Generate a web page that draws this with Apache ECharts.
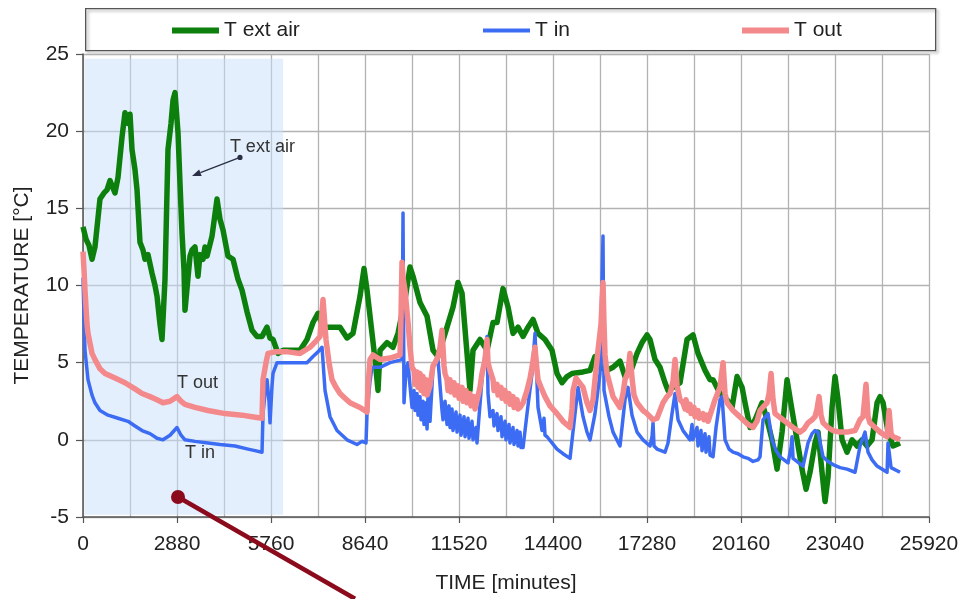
<!DOCTYPE html>
<html>
<head>
<meta charset="utf-8">
<script src="https://cdn.jsdelivr.net/npm/echarts@6/dist/echarts.min.js"></script>
<style>
  html, body { margin: 0; padding: 0; background: #fff; }
  #chart { width: 964px; height: 599px; }
</style>
</head>
<body>
<div id="chart"></div>
<script>
// Temperature records [time in minutes, °C]
const tExtAir = [
  [0,13.8],[92,13.0],[184,12.6],[276,11.7],[367,12.5],[520,15.6],[644,16.0],[736,16.2],[827,16.8],
  [919,16.3],[980,16.0],[1072,17.0],[1195,19.6],[1287,21.2],[1379,20.5],[1440,21.1],[1502,18.8],
  [1593,17.5],[1655,16.2],[1746,12.8],[1838,12.3],[1899,11.7],[1991,12.0],[2114,10.8],[2206,10.0],
  [2268,9.3],[2359,7.5],[2421,6.5],[2512,10.4],[2604,18.8],[2696,20.5],[2758,22.0],[2819,22.5],
  [2911,19.9],[2972,16.6],[3034,13.4],[3095,11.0],[3125,8.4],[3217,10.5],[3278,11.9],[3340,12.3],
  [3431,12.5],[3523,10.6],[3584,12.0],[3677,11.7],[3738,12.5],[3800,11.9],[3953,13.2],[4106,15.6],
  [4197,14.3],[4290,13.6],[4443,11.9],[4596,11.7],[4749,10.4],[4872,9.7],[5025,8.3],[5178,7.1],
  [5332,6.7],[5485,6.7],[5638,7.3],[5729,6.6],[5822,6.5],[5975,5.6],[6128,5.8],[6281,5.8],
  [6649,5.8],[6863,6.5],[7047,7.6],[7200,8.2],[7354,7.3],[7660,7.3],[7874,7.3],[8089,6.6],
  [8273,6.9],[8487,9.3],[8610,11.1],[8702,9.7],[8855,6.9],[8947,5.2],[9039,3.2],[9100,5.8],
  [9315,6.3],[9498,6.0],[9651,6.9],[9866,9.1],[10019,11.2],[10111,10.6],[10325,8.9],[10541,8.0],
  [10724,5.8],[10877,5.4],[11153,7.3],[11337,8.6],[11490,10.2],[11613,9.5],[11766,5.6],[11857,3.2],
  [11950,5.8],[12164,6.5],[12379,5.8],[12562,7.6],[12685,7.6],[12869,9.8],[13022,8.6],[13175,6.9],
  [13328,7.3],[13482,6.7],[13635,7.3],[13788,7.8],[13941,6.9],[14155,6.5],[14370,5.8],[14523,4.3],
  [14676,3.7],[14830,4.1],[14983,4.3],[15320,4.4],[15534,4.5],[15687,5.4],[15840,4.7],[16055,4.5],
  [16239,4.7],[16453,5.1],[16606,4.1],[16759,4.3],[16975,5.6],[17128,6.3],[17281,6.8],[17372,6.5],
  [17526,5.2],[17679,4.7],[17832,3.7],[17924,3.2],[18078,3.4],[18292,3.7],[18507,6.5],[18690,6.8],
  [18843,5.6],[19058,4.5],[19211,3.9],[19303,3.9],[19517,3.0],[19733,2.6],[19886,2.1],[20040,4.1],
  [20193,3.4],[20283,2.4],[20436,0.8],[20590,1.3],[20805,2.4],[20958,1.3],[21111,0.0],[21265,-1.9],
  [21418,0.5],[21571,3.9],[21724,1.9],[21877,0.0],[22030,-1.9],[22153,-3.2],[22275,-2.1],[22428,-0.2],
  [22520,0.5],[22643,-2.1],[22735,-4.0],[22827,-2.4],[22950,2.1],[23041,4.1],[23133,2.6],[23256,0.0],
  [23409,-0.8],[23562,0.0],[23716,-0.4],[23869,0.0],[24022,-0.4],[24175,0.0],[24329,2.4],[24420,2.8],
  [24512,2.4],[24665,0.5],[24818,-0.4],[25032,-0.2]
];

const tIn = [
  [0,10.5],[31,8.0],[61,5.8],[153,3.9],[276,2.9],[367,2.4],[521,1.9],[766,1.6],[1072,1.4],[1379,1.2],
  [1593,0.9],[1808,0.6],[2053,0.4],[2267,0.1],[2451,0.0],[2666,0.3],[2880,0.8],[3003,0.3],[3125,0.0],
  [3431,-0.1],[3830,-0.2],[4197,-0.3],[4657,-0.4],[5056,-0.6],[5270,-0.7],[5485,-0.8],[5515,1.7],
  [5576,3.0],[5638,3.9],[5699,2.5],[5730,1.1],[5791,3.5],[5822,4.3],[5944,5.0],[6281,5.0],[6863,5.0],
  [7047,5.4],[7200,5.7],[7323,6.0],[7415,3.2],[7568,1.5],[7782,0.6],[8089,0.0],[8395,-0.3],[8549,-0.1],
  [8671,-0.2],[8702,1.7],[8794,3.8],[8855,4.7],[9100,4.7],[9406,5.0],[9774,5.2],[9805,14.7],[9835,2.4],
  [9897,4.5],[9958,5.0],[10019,3.5],[10081,2.1],[10142,3.2],[10172,1.9],[10234,3.0],[10264,1.6],
  [10325,2.8],[10356,1.3],[10418,2.5],[10448,1.0],[10510,2.4],[10541,0.7],[10571,2.8],[10632,1.2],
  [10724,4.7],[10877,5.2],[11000,1.9],[11030,1.3],[11092,2.5],[11153,1.0],[11214,2.2],[11245,0.8],
  [11306,2.0],[11337,0.6],[11429,1.8],[11460,0.5],[11551,1.6],[11582,0.3],[11674,1.5],[11705,0.2],
  [11796,1.4],[11827,0.1],[11919,1.2],[11950,0.0],[12041,0.8],[12072,-0.2],[12133,1.5],[12225,3.9],
  [12379,6.7],[12409,3.0],[12470,1.5],[12562,1.9],[12593,0.9],[12685,1.7],[12715,0.6],[12807,1.5],
  [12838,0.2],[12930,1.2],[12960,0.0],[13052,1.0],[13083,-0.2],[13175,0.8],[13206,-0.3],[13298,0.6],
  [13328,-0.4],[13390,0.5],[13420,-0.5],[13482,-0.5],[13604,1.7],[13757,4.3],[13849,6.9],[13941,2.1],
  [14033,1.0],[14064,0.6],[14125,1.4],[14155,0.3],[14217,0.2],[14370,-0.2],[14523,-0.6],[14707,-0.9],
  [14922,-1.2],[15075,1.7],[15167,3.4],[15320,1.5],[15442,0.5],[15534,0.0],[15687,1.7],[15840,4.3],
  [15932,13.2],[15963,3.2],[15994,3.2],[16116,1.5],[16239,0.5],[16453,-0.4],[16606,2.6],[16698,3.4],
  [16821,1.6],[16975,0.5],[17158,0.0],[17372,-0.4],[17434,0.2],[17465,1.1],[17495,-0.4],[17587,-0.6],
  [17832,-0.8],[17924,-0.2],[18047,1.7],[18139,3.0],[18231,1.3],[18384,0.6],[18598,0.0],[18660,1.0],
  [18690,0.0],[18813,0.8],[18843,-0.4],[18935,0.6],[18966,-0.7],[19058,0.4],[19088,-0.8],[19180,0.2],
  [19211,-1.0],[19303,-1.1],[19395,0.8],[19517,2.6],[19579,2.8],[19671,0.0],[19794,-0.6],[19916,-0.8],
  [20069,-0.9],[20222,-1.1],[20375,-1.2],[20529,-1.4],[20682,-1.3],[20743,-1.1],[20835,1.3],[20988,1.7],
  [21111,0.0],[21234,-0.7],[21356,-1.1],[21601,-1.5],[21693,-0.5],[21724,0.2],[21754,-1.2],[21815,-1.3],
  [22061,-1.7],[22214,-0.2],[22337,0.4],[22428,0.6],[22520,0.5],[22674,-1.1],[22827,-1.4],[22980,-1.6],
  [23194,-1.8],[23409,-1.9],[23654,-2.1],[23807,-0.4],[23960,0.5],[24052,-0.8],[24175,-1.3],[24329,-1.7],
  [24635,-2.1],[24665,-0.2],[24696,-0.2],[24757,-1.8],[24818,-1.9],[25032,-2.1]
];

const tOut = [
  [0,12.2],[31,11.0],[61,9.7],[123,7.5],[153,6.9],[276,5.6],[367,5.2],[521,4.6],[674,4.3],[980,4.0],
  [1287,3.7],[1593,3.3],[1808,3.0],[2053,2.8],[2267,2.6],[2451,2.4],[2666,2.5],[2880,2.8],[3003,2.5],
  [3125,2.3],[3431,2.1],[3830,1.9],[4351,1.7],[4872,1.6],[5178,1.5],[5485,1.4],[5515,3.9],[5607,5.0],
  [5668,5.6],[5883,5.7],[6281,5.7],[6649,5.6],[6955,6.0],[7139,6.4],[7262,6.7],[7354,9.1],[7445,6.5],
  [7537,5.0],[7629,3.9],[7752,3.4],[7874,3.0],[8028,2.7],[8181,2.4],[8487,2.1],[8702,1.8],[8733,3.5],
  [8794,5.2],[8886,5.5],[9100,5.2],[9406,5.3],[9713,5.5],[9743,8.0],[9774,11.5],[9805,10.5],[9866,9.7],
  [9958,7.6],[10019,6.0],[10081,4.7],[10142,4.5],[10172,3.6],[10234,4.4],[10264,3.4],[10325,4.3],
  [10356,3.2],[10418,4.1],[10448,3.0],[10510,3.9],[10541,2.9],[10632,3.5],[10724,4.8],[10785,5.0],
  [10877,5.4],[10939,6.0],[11000,7.1],[11061,4.8],[11092,4.3],[11153,3.9],[11184,3.2],[11245,3.9],
  [11276,3.1],[11368,3.7],[11398,2.9],[11490,3.5],[11521,2.7],[11613,3.4],[11643,2.5],[11735,3.2],
  [11766,2.4],[11857,3.0],[11888,2.2],[11980,2.8],[12011,2.0],[12072,2.1],[12164,3.4],[12225,4.3],
  [12317,5.2],[12379,6.5],[12409,5.0],[12470,4.5],[12562,3.9],[12593,3.2],[12685,3.6],[12715,2.9],
  [12807,3.4],[12838,2.7],[12930,3.2],[12960,2.5],[13052,3.0],[13083,2.3],[13175,2.8],[13206,2.1],
  [13298,2.6],[13328,2.0],[13390,2.1],[13482,2.4],[13604,3.2],[13696,4.0],[13757,4.7],[13849,6.0],
  [13910,4.5],[13941,3.9],[14033,3.4],[14155,2.8],[14309,2.2],[14523,1.7],[14707,1.2],[14922,0.8],
  [14983,2.0],[15014,3.2],[15106,4.0],[15167,4.1],[15320,3.4],[15442,2.4],[15534,1.9],[15626,2.6],
  [15687,3.9],[15779,5.8],[15871,7.5],[15932,10.2],[15963,7.5],[15994,5.5],[16055,4.3],[16239,2.8],
  [16453,2.1],[16545,3.0],[16606,3.9],[16698,4.4],[16759,5.6],[16821,4.0],[16882,2.9],[16975,2.4],
  [17158,1.9],[17281,1.7],[17465,1.3],[17587,1.4],[17771,2.4],[17894,2.8],[17986,3.0],[18078,3.8],
  [18139,5.2],[18200,3.5],[18292,2.6],[18384,2.4],[18445,2.0],[18476,2.6],[18537,1.9],[18598,2.3],
  [18629,1.7],[18721,2.1],[18751,1.5],[18843,1.9],[18874,1.4],[18997,1.7],[19027,1.3],[19119,1.6],
  [19150,1.2],[19211,1.3],[19364,2.6],[19517,3.4],[19610,5.0],[19671,3.0],[19733,2.4],[19916,1.9],
  [20069,1.6],[20222,1.3],[20375,1.0],[20529,0.8],[20651,1.2],[20743,1.9],[20866,2.2],[20958,2.4],
  [21019,3.0],[21081,4.3],[21142,2.6],[21203,1.7],[21387,1.4],[21571,1.1],[21754,0.8],[21969,0.5],
  [22091,0.7],[22214,1.1],[22337,1.3],[22428,1.5],[22490,2.0],[22551,2.8],[22613,1.6],[22674,1.1],
  [22827,0.8],[22980,0.6],[23194,0.5],[23409,0.5],[23654,0.6],[23807,1.3],[23899,1.5],[23991,3.6],
  [24052,1.5],[24114,1.1],[24267,0.8],[24420,0.5],[24635,0.2],[24696,1.9],[24757,0.4],[24818,0.2],
  [24941,0.1],[25032,0.0]
];

// Axis ranges
const xRange = [0, 25920], xStep = 2880;
const yRange = [-5, 25], yStep = 5;

// Shaded start-up period [minutes, °C]
const shadedFrom = [60, 24.7];
const shadedTo = [6130, -4.85];

const FONT = '"Liberation Sans", Arial, sans-serif';
const INK = '#222';
const GRID = '#b2b2b2';

const chart = echarts.init(document.getElementById('chart'), null, { renderer: 'canvas' });

function legendEntry(name, left, h) {
  return {
    data: [name], left: left, top: 20, padding: 0, icon: 'rect', z: 20,
    itemWidth: 47, itemHeight: h, selectedMode: false,
    textStyle: { fontSize: 21, color: INK, fontFamily: FONT }
  };
}

function lineSeries(name, data, color, width, extra) {
  return Object.assign({
    name: name, type: 'line', data: data, showSymbol: false, symbol: 'none',
    color: color, itemStyle: { color: color },
    lineStyle: { color: color, width: width, join: 'round' },
    animation: false
  }, extra || {});
}

chart.setOption({
  animation: false,
  backgroundColor: '#fff',
  textStyle: { fontFamily: FONT },
  grid: { left: 83, right: 35, top: 54, bottom: 82 },
  legend: [
    legendEntry('T ext air', 172, 6),
    legendEntry('T in', 483, 4),
    legendEntry('T out', 742, 6)
  ],
  xAxis: {
    type: 'value', min: xRange[0], max: xRange[1], interval: xStep,
    name: 'TIME [minutes]', nameLocation: 'middle', nameGap: 56,
    nameTextStyle: { fontSize: 21, color: INK, fontFamily: FONT },
    axisLine: { show: true, onZero: false, lineStyle: { color: '#555', width: 1.5 } },
    axisTick: { show: true, length: 6, lineStyle: { color: '#555', width: 1.2 } },
    minorTick: { show: false, splitNumber: 2 },
    axisLabel: { fontSize: 21, color: INK, margin: 17, fontFamily: FONT, formatter: (v) => String(v) },
    splitLine: { show: true, lineStyle: { color: GRID, width: 1.3 } },
    minorSplitLine: { show: true, lineStyle: { color: GRID, width: 1.3 } }
  },
  yAxis: {
    type: 'value', min: yRange[0], max: yRange[1], interval: yStep,
    name: 'TEMPERATURE [°C]', nameLocation: 'middle', nameGap: 50, nameRotate: 90,
    nameTextStyle: { fontSize: 21, color: INK, fontFamily: FONT },
    axisLine: { show: true, onZero: false, lineStyle: { color: '#555', width: 1.5 } },
    axisTick: { show: true, length: 7, lineStyle: { color: '#555', width: 1.2 } },
    axisLabel: { fontSize: 21, color: INK, margin: 14, fontFamily: FONT },
    splitLine: { show: true, lineStyle: { color: GRID, width: 1.3 } }
  },
  series: [
    lineSeries('T ext air', tExtAir, '#0c7f0c', 5.5, {
      z: 2,
      markArea: {
        silent: true,
        itemStyle: { color: 'rgba(200,224,252,0.5)' },
        data: [[{ coord: shadedFrom }, { coord: shadedTo }]]
      }
    }),
    lineSeries('T in', tIn, '#3c6cf3', 3.5, { z: 3 }),
    lineSeries('T out', tOut, '#f4898b', 5.5, { z: 4 })
  ]
});

// Notes drawn in data space
const px = (p) => chart.convertToPixel({ gridIndex: 0 }, p);
const noteExt = { text: 'T ext air', at: [4500, 19.0], from: [4810, 18.3], to: [3340, 17.1] };
const noteOut = { text: 'T out', at: [2880, 3.7] };
const noteIn = { text: 'T in', at: [3125, -0.85] };
const pointer = { from: [2911, -3.7], to: [8334, -10.3] };

function label(note) {
  const p = px(note.at);
  return {
    type: 'text', x: p[0], y: p[1], z: 20,
    style: { text: note.text, fontSize: 18, fill: '#333', fontFamily: FONT, align: 'left', verticalAlign: 'middle' }
  };
}

const a0 = px(noteExt.from), a1 = px(noteExt.to);
const dx = a1[0] - a0[0], dy = a1[1] - a0[1], len = Math.hypot(dx, dy);
const ux = dx / len, uy = dy / len;
const headLen = 9, headW = 3.5;
const hb = [a1[0] - ux * headLen, a1[1] - uy * headLen];
const r0 = px(pointer.from), r1 = px(pointer.to);

chart.setOption({
  graphic: [
    {
      type: 'rect', left: 85, top: 8, z: -1, silent: true,
      shape: { width: 850, height: 42 },
      style: { fill: 'transparent', stroke: '#555', lineWidth: 1.3, shadowColor: 'rgba(0,0,0,0.35)', shadowBlur: 3, shadowOffsetX: 2, shadowOffsetY: 2 }
    },
    label(noteExt), label(noteOut), label(noteIn),
    {
      type: 'line', z: 20,
      shape: { x1: a0[0], y1: a0[1], x2: hb[0], y2: hb[1] },
      style: { stroke: '#2a2f45', lineWidth: 1.3 }
    },
    {
      type: 'polygon', z: 20,
      shape: { points: [a1, [hb[0] - uy * headW, hb[1] + ux * headW], [hb[0] + uy * headW, hb[1] - ux * headW]] },
      style: { fill: '#2a2f45' }
    },
    { type: 'circle', z: 20, shape: { cx: a0[0], cy: a0[1], r: 2.6 }, style: { fill: '#2a2f45' } },
    {
      type: 'line', z: 30,
      shape: { x1: r0[0], y1: r0[1], x2: r1[0], y2: r1[1] },
      style: { stroke: '#8b0b1c', lineWidth: 4.5 }
    },
    { type: 'circle', z: 31, shape: { cx: r0[0], cy: r0[1], r: 7 }, style: { fill: '#8b0b1c' } }
  ]
});
</script>
</body>
</html>
